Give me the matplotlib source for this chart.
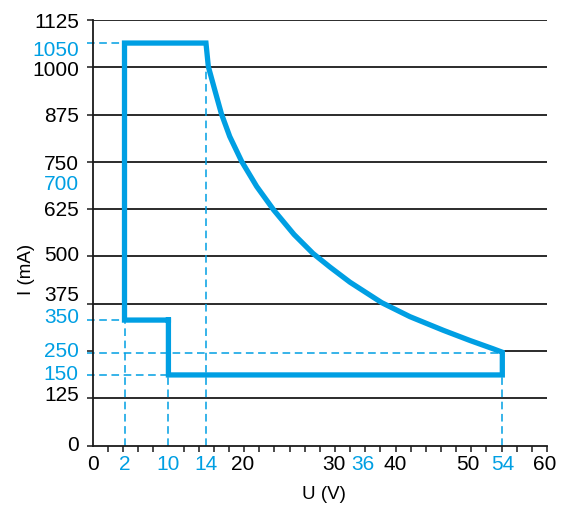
import matplotlib
matplotlib.use("Agg")
import matplotlib.pyplot as plt
import numpy as np

plt.rcParams["font.family"] = ["Liberation Sans Narrow", "Liberation Sans", "DejaVu Sans"]

BLUE = "#009FE3"
DARK = "#1a1a1a"

# operating window outline (in axis units)
u_left, u_step, u_knee, u_right = 4.2, 10.0, 14.96, 54.1
i_top, i_step, i_end, i_bottom = 1064, 332, 247, 187

# constant-power curve from the knee down to the right edge
curve_u = [14.96, 15.27, 16.15, 17.0, 18.1, 19.68, 21.66, 23.9, 26.6, 29.1,
           31.34, 33.98, 38.17, 41.9, 46.3, 49.83, 52.9, 54.1]
curve_i = [1064, 1002, 938, 877, 817, 751, 685, 623, 558, 508,
           472, 432, 378, 341, 305, 278, 256, 247]

grid_levels = [125, 375, 500, 625, 750, 875, 1000, 1125]
tick_marks_y = [0, 125, 250, 375, 500, 625, 750, 875, 1000, 1125]

# tick label positions (as drawn) and their text
x_label_pos = [0, 4.25, 10.0, 14.9, 19.8, 31.8, 35.7, 39.9, 49.6, 54.1, 59.7]
x_label_txt = ["0", "2", "10", "14", "20", "30", "36", "40", "50", "54", "60"]
x_label_blue = [False, True, True, True, False, False, True, False, False, True, False]

y_label_pos = [7, 139, 193, 253, 344, 403, 509, 628, 695, 748, 874, 996, 1049, 1123]
y_label_txt = ["0", "125", "150", "250", "350", "375", "500", "625", "700", "750",
               "875", "1000", "1050", "1125"]
y_label_blue = [False, False, True, True, True, False, False, False, True, False,
                False, False, True, False]

fig = plt.figure(figsize=(5.67, 5.07), dpi=100)
ax = fig.add_axes([0.1635, 0.1209, 0.8012, 0.8397])
ax.set_xlim(0, 60)
ax.set_ylim(0, 1125)

for s in ("top", "right"):
    ax.spines[s].set_visible(False)
for s in ("left", "bottom"):
    ax.spines[s].set_color(DARK)
    ax.spines[s].set_linewidth(1.3)

# horizontal grid
ax.hlines(grid_levels, 0, 60, color=DARK, lw=1.3, zorder=1)
ax.hlines([250], u_right, 60, color=DARK, lw=1.3, zorder=1)

# dashed helper lines
dash = dict(color=BLUE, lw=1.1, dashes=(5, 3), zorder=2, clip_on=False)
x0 = -0.8
ax.plot([x0, u_left], [i_top, i_top], **dash)
ax.plot([x0, u_left], [i_step, i_step], **dash)
ax.plot([x0, u_right], [i_end - 3, i_end - 3], **dash)
ax.plot([x0, u_step], [i_bottom, i_bottom], **dash)
ax.plot([u_left, u_left], [0, i_step], **dash)
ax.plot([u_step, u_step], [0, i_bottom], **dash)
ax.plot([u_knee, u_knee], [0, 995], **dash)
ax.plot([u_right, u_right], [0, i_bottom], **dash)

# outline
xs = [u_step, u_left, u_left] + curve_u + [u_right, u_step, u_step]
ys = [i_step, i_step, i_top] + curve_i + [i_bottom, i_bottom, i_step]
ax.plot(xs, ys, color=BLUE, lw=3.8, solid_joinstyle="miter", zorder=3, clip_on=False)

# ticks
ax.set_xticks(x_label_pos)
ax.set_xticklabels(x_label_txt)
ax.set_xticks(np.arange(0, 61, 2), minor=True)
ax.set_yticks(y_label_pos)
ax.set_yticklabels(y_label_txt)
ax.set_yticks(tick_marks_y, minor=True)
ax.tick_params(axis="both", which="major", length=0, labelsize=15, colors=DARK)
ax.tick_params(axis="x", which="major", pad=7)
ax.tick_params(axis="y", which="major", pad=10)
ax.tick_params(axis="both", which="minor", length=4, width=1.1, color=DARK)
for lab, b in zip(ax.get_xticklabels(), x_label_blue):
    lab.set_color(BLUE if b else "black")
for lab, b in zip(ax.get_yticklabels(), y_label_blue):
    lab.set_color(BLUE if b else "black")

ax.set_xlabel("U (V)", fontsize=13.5)
ax.set_ylabel("I (mA)", fontsize=13.5)
ax.xaxis.set_label_coords(0.51, -0.095)
ax.yaxis.set_label_coords(-0.128, 0.415)

fig.savefig("out.png", dpi=100)
